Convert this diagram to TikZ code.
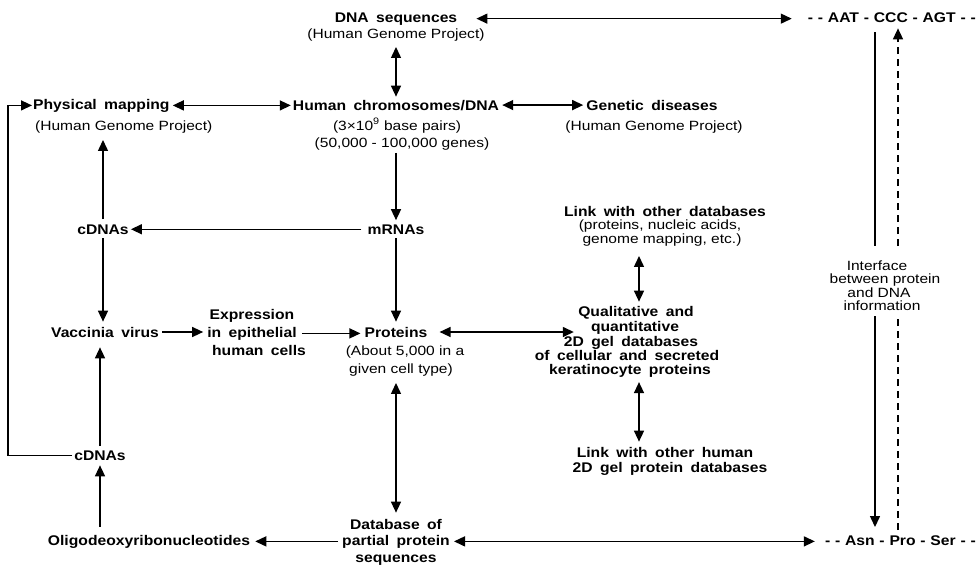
\documentclass[tikz,border=0pt]{standalone}
\usepackage{fontspec}
\setmainfont{Liberation Sans}
\newfontfamily\bfam[FakeStretch=1.12,WordSpace=1.7]{Liberation Sans}
\newfontfamily\rfam[FakeStretch=1.16]{Liberation Sans}
\usetikzlibrary{arrows.meta}
\newcommand{\sq}{\hspace{4.8pt}}
\tikzset{
  tb/.style={font=\bfam\bfseries\fontsize{14}{16}\selectfont, inner sep=0pt, anchor=base},
  tr/.style={font=\rfam\fontsize{13.4}{15}\selectfont, inner sep=0pt, anchor=base},
  ar/.style={-{Triangle[length=11pt,width=10pt]}, line width=1.4pt},
  dar/.style={{Triangle[length=11pt,width=10pt]}-{Triangle[length=11pt,width=10pt]}, line width=1.4pt},
  ln/.style={line width=1.4pt},
  dl/.style={line width=1.4pt, dash pattern=on 7pt off 5pt}
}
\begin{document}
\begin{tikzpicture}[x=1pt,y=-1pt]
\useasboundingbox (0,0) rectangle (979,568);
% top row
\node[tb] (dna) at (396,22) {DNA sequences};
\node[tr] (dnas) at (396,38) {(Human Genome Project)};
\node[tb, anchor=base east] (aat) at (976,22) {-\sq-\sq AAT\sq-\sq CCC\sq-\sq AGT\sq-\sq-};
% second row
\node[tb, anchor=base west] (phys) at (33,109) {Physical mapping};
\node[tr, anchor=base west] (physs) at (35,130) {(Human Genome Project)};
\node[tb] (chrom) at (396,110) {Human chromosomes/DNA};
\node[tr] (chroms1) at (397,130) {(3×10\textsuperscript{9} base pairs)};
\node[tr] (chroms2) at (402,147) {(50,000 - 100,000 genes)};
\node[tb] (gen) at (652,110) {Genetic diseases};
\node[tr] (gens) at (654,130) {(Human Genome Project)};
% third row
\node[tb] (cdna1) at (103,234) {cDNAs};
\node[tb] (mrna) at (396,234) {mRNAs};
\node[tb] (link1) at (665,216) {Link with other databases};
\node[tr] (link1b) at (660,229) {(proteins, nucleic acids,};
\node[tr] (link1c) at (662,243) {genome mapping, etc.)};
% interface
\node[tr] (if1) at (877,270) {Interface};
\node[tr] (if2) at (885,283) {between protein};
\node[tr] (if3) at (879,297) {and DNA};
\node[tr] (if4) at (882,310) {information};
% fourth row
\node[tb] (vacc) at (105,337) {Vaccinia virus};
\node[tb] (exp1) at (252,319) {Expression};
\node[tb] (exp2) at (252,337) {in epithelial};
\node[tb] (exp3) at (259,355) {human cells};
\node[tb] (prot) at (396,337) {Proteins};
\node[tr] (prots1) at (405,355) {(About 5,000 in a};
\node[tr] (prots2) at (401,373) {given cell type)};
\node[tb] (qual1) at (636,316) {Qualitative and};
\node[tb] (qual2) at (635,331) {quantitative};
\node[tb] (qual3) at (631,346) {2D gel databases};
\node[tb] (qual4) at (627,360) {of cellular and secreted};
\node[tb] (qual5) at (630,374) {keratinocyte proteins};
% lower rows
\node[tb] (link2) at (665,457) {Link with other human};
\node[tb] (link2b) at (670,472) {2D gel protein databases};
\node[tb] (cdna2) at (100,460) {cDNAs};
\node[tb] (oligo) at (149,545) {Oligodeoxyribonucleotides};
\node[tb] (db1) at (396,529) {Database of};
\node[tb] (db2) at (396,545) {partial protein};
\node[tb] (db3) at (396,562) {sequences};
\node[tb, anchor=base east] (asn) at (976,545) {-\sq-\sq Asn\sq-\sq Pro\sq-\sq Ser\sq-\sq-};
% helper coordinates
\coordinate (brk) at (8,0);
\coordinate (sx) at (875,0);
\coordinate (dx) at (898,0);
\coordinate (qx) at (639,0);
% connectors
\draw[dar] ([xshift=19pt]dna.east) -- ([xshift=-16pt]aat.west |- dna.east);
\draw[dar] ([yshift=-6pt]dnas.south) -- ([yshift=3pt]chrom.north);
\draw[dar] ([xshift=3pt]phys.east) -- ([xshift=-2pt]chrom.west |- phys.east);
\draw[dar] ([xshift=3pt]chrom.east) -- ([xshift=-3pt]gen.west |- chrom.east);
\draw[ar] ([yshift=-3pt]chroms2.south -| mrna.north) -- ([yshift=4pt]mrna.north);
\draw[ar] ([xshift=-6pt]mrna.west) -- ([xshift=2pt]cdna1.east |- mrna.west);
\draw[ar] ([yshift=5pt]cdna1.north) -- ([yshift=-7pt]cdna1.north |- physs.south);
\draw[ar] ([yshift=-4pt]cdna1.south) -- ([yshift=5pt]cdna1.south |- vacc.north);
\draw[ar] ([yshift=-4pt]mrna.south) -- ([yshift=5pt]prot.north);
\draw[ar] ([xshift=3pt]vacc.east) -- ([xshift=-4pt]exp2.west |- vacc.east);
\draw[ar] ([xshift=5pt]exp2.east) -- ([xshift=-4pt]prot.west |- exp2.east);
\draw[dar] ([xshift=12pt]prot.east) -- ([xshift=-17pt]qual2.west |- prot.east);
\draw[dar] ([yshift=-10pt]link1c.south -| qx) -- ([yshift=4pt]qual1.north -| qx);
\draw[dar] ([yshift=-5pt]qual5.south -| qx) -- ([yshift=5pt]link2.north -| qx);
\draw[dar] ([yshift=-7pt]prots2.south -| prot.south) -- ([yshift=6pt]db1.north);
\draw[ar] ([xshift=-4pt]db2.west) -- ([xshift=5pt]oligo.east |- db2.west);
\draw[dar] ([xshift=4pt]db2.east) -- ([xshift=-10pt]asn.west |- db2.east);
\draw[ar] ([yshift=8pt]oligo.north -| cdna2.south) -- ([yshift=-5pt]cdna2.south);
\draw[ar] ([yshift=4pt]cdna2.north) -- ([yshift=-10pt]cdna2.north |- vacc.south);
\draw[ar] ([xshift=-2pt]cdna2.west) -- (cdna2.west -| brk) |- ([xshift=-1pt]phys.west);
% interface lines
\draw[ln] ([yshift=-10pt]aat.south -| sx) -- ([yshift=14pt]if1.north -| sx);
\draw[ar] ([yshift=-6pt]if4.south -| sx) -- ([yshift=8pt]asn.north -| sx);
\draw[dl] ([yshift=5pt]asn.north -| dx) -- ([yshift=-6pt]if4.south -| dx);
\draw[dl,-{Triangle[length=11pt,width=10pt]}] ([yshift=14pt]if1.north -| dx) -- ([yshift=-6pt]aat.south -| dx);
\end{tikzpicture}
\end{document}
